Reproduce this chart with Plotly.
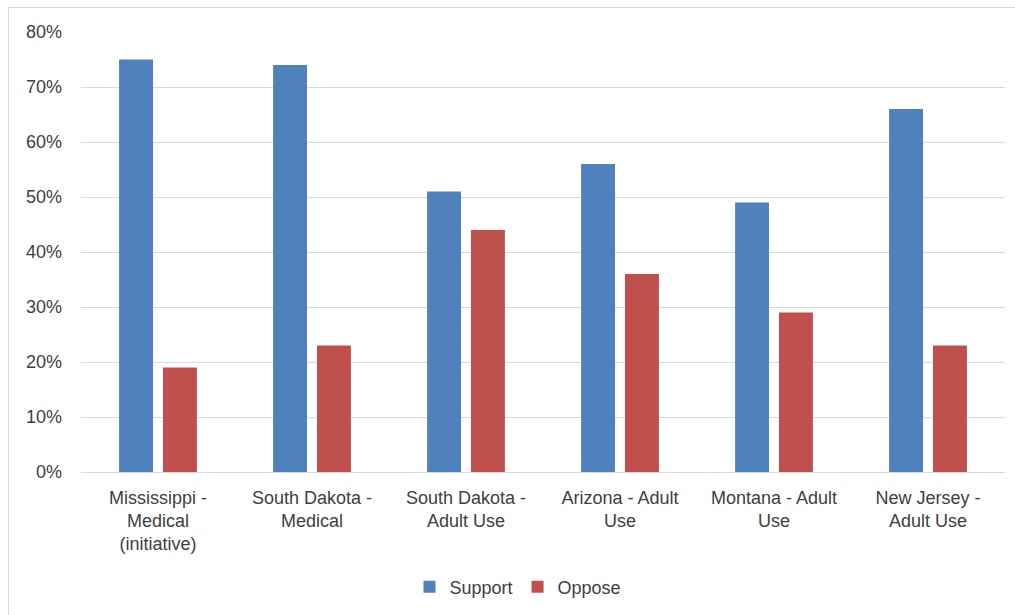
import plotly.graph_objects as go

categories = [
    "Mississippi -<br>Medical<br>(initiative)",
    "South Dakota -<br>Medical",
    "South Dakota -<br>Adult Use",
    "Arizona - Adult<br>Use",
    "Montana - Adult<br>Use",
    "New Jersey -<br>Adult Use",
]
support = [0.75, 0.74, 0.51, 0.56, 0.49, 0.66]
oppose = [0.19, 0.23, 0.44, 0.36, 0.29, 0.23]
y_ticks = [0, 0.1, 0.2, 0.3, 0.4, 0.5, 0.6, 0.7, 0.8]

FONT = "Liberation Sans, Arial, sans-serif"
TXT = "#404040"
FS = 18

fig = go.Figure()
fig.add_trace(go.Bar(name="Support", x=categories, y=support,
                     marker=dict(color="#4F81BD", line=dict(width=0))))
fig.add_trace(go.Bar(name="Oppose", x=categories, y=oppose,
                     marker=dict(color="#C0504D", line=dict(width=0))))

W, H = 1015, 615
L, R, T, B = 81, 10, 32, 143
pw, ph = W - L - R, H - T - B

def px(x):
    return (x - L) / pw

def py(y):
    return (H - B - y) / ph

fig.update_layout(
    width=W, height=H,
    margin=dict(l=L, r=R, t=T, b=B, pad=0),
    paper_bgcolor="white", plot_bgcolor="white",
    font=dict(family=FONT, size=FS, color=TXT),
    barmode="group", bargap=0.43, bargroupgap=0.227,
    showlegend=True,
    legend=dict(orientation="h", x=px(518), xanchor="center", y=py(587), yanchor="middle",
                font=dict(size=FS, color=TXT), itemwidth=30, traceorder="normal"),
    xaxis=dict(showgrid=False, showline=True, linecolor="#D9D9D9", linewidth=1,
               ticks="", ticklabelstandoff=9, tickfont=dict(size=FS, color=TXT)),
    yaxis=dict(range=[0, 0.8], tickvals=y_ticks, tickformat=".0%",
               showgrid=True, gridcolor="#D9D9D9", gridwidth=1, zeroline=False,
               showline=False, ticks="", ticklabelstandoff=18,
               tickfont=dict(size=FS, color=TXT)),
    shapes=[
        dict(type="line", xref="paper", yref="paper", x0=px(8), x1=px(1015 + 5),
             y0=py(7.5), y1=py(7.5), line=dict(color="#D9D9D9", width=1)),
        dict(type="line", xref="paper", yref="paper", x0=px(8.5), x1=px(8.5),
             y0=py(7), y1=py(620), line=dict(color="#D9D9D9", width=1)),
    ],
)

fig.write_html("out.html")
